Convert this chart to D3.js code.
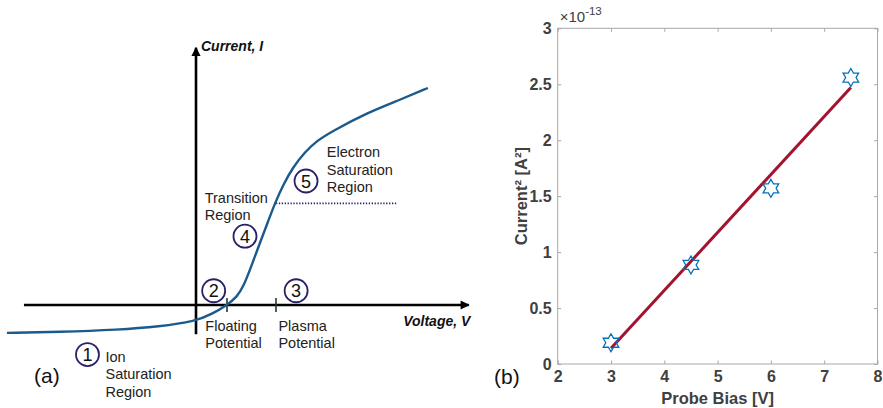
<!DOCTYPE html>
<html>
<head>
<meta charset="utf-8">
<script src="https://cdn.jsdelivr.net/npm/d3@7"></script>
<style>
  body { margin: 0; background: #fff; }
  text { font-family: "Liberation Sans", Arial, sans-serif; }
</style>
</head>
<body>
<script>
  // ---- panel (a): sketch of a Langmuir probe I-V curve (arbitrary units)
  const curveV = [-6.1, -4.4, -2.5, -1.2, 0, 0.52, 1.0, 1.32, 1.52, 1.74, 2.06, 2.32, 2.55, 2.81, 3.13, 3.52, 3.9, 4.42, 5.52, 6.58, 7.48];
  const curveI = [-0.9, -0.87, -0.8, -0.7, -0.52, -0.29, 0, 0.26, 0.58, 1.13, 2.0, 2.68, 3.29, 3.87, 4.45, 4.94, 5.3, 5.62, 6.2, 6.62, 7.0];
  const floatingV = 1.0;
  const plasmaV = 2.58;
  const saturationI = 3.28;
  const saturationEndV = 6.5;
  const regions = [
    { n: 1, v: -3.5, i: -1.6, lines: ['Ion', 'Saturation', 'Region'], tv: -2.92, ti: -1.84 },
    { n: 2, v: 0.57, i: 0.46, lines: ['Floating', 'Potential'], tv: 0.3, ti: -0.84 },
    { n: 3, v: 3.23, i: 0.46, lines: ['Plasma', 'Potential'], tv: 2.66, ti: -0.84 },
    { n: 4, v: 1.58, i: 2.22, lines: ['Transition', 'Region'], tv: 0.28, ti: 3.3 },
    { n: 5, v: 3.55, i: 4.0, lines: ['Electron', 'Saturation', 'Region'], tv: 4.22, ti: 4.77 }
  ];

  // ---- panel (b): measured current squared vs probe bias
  const biasV = [3, 4.5, 6, 7.5];
  const currentSq = [0.19, 0.885, 1.57, 2.56];   // x 1e-13 A^2
  const fitX = [3, 7.5];
  const fitY = [0.14, 2.47];
  const xTicks = [2, 3, 4, 5, 6, 7, 8];
  const yTicks = [0, 0.5, 1, 1.5, 2, 2.5, 3];

  const width = 883, height = 408;
  const svg = d3.select('body').append('svg')
    .attr('width', width).attr('height', height);

  // ================= panel (a)
  const xA = d3.scaleLinear().domain([-6, 9]).range([10, 475]);
  const yA = d3.scaleLinear().domain([-1, 8]).range([336, 57]);
  const ga = svg.append('g');
  const navy = '#2a2066';

  svg.append('defs').append('marker')
    .attr('id', 'arrow').attr('viewBox', '0 0 10 10')
    .attr('refX', 9).attr('refY', 5)
    .attr('markerWidth', 4).attr('markerHeight', 3.5)
    .attr('orient', 'auto')
    .append('path').attr('d', 'M0,0L10,5L0,10z').attr('fill', '#000');

  // axes
  ga.append('line')
    .attr('x1', xA(-5.55)).attr('x2', xA(8.8))
    .attr('y1', yA(0)).attr('y2', yA(0))
    .attr('stroke', '#000').attr('stroke-width', 2.6)
    .attr('marker-end', 'url(#arrow)');
  ga.append('line')
    .attr('x1', xA(0)).attr('x2', xA(0))
    .attr('y1', yA(-0.94)).attr('y2', yA(8.3))
    .attr('stroke', '#000').attr('stroke-width', 2.6)
    .attr('marker-end', 'url(#arrow)');

  ga.append('text')
    .attr('x', xA(0) + 5).attr('y', yA(8.2))
    .attr('font-size', 14).attr('font-weight', 'bold').attr('font-style', 'italic')
    .attr('fill', '#111').text('Current, I');
  ga.append('text')
    .attr('x', xA(8.85)).attr('y', yA(-0.68))
    .attr('text-anchor', 'end')
    .attr('font-size', 14).attr('font-weight', 'bold').attr('font-style', 'italic')
    .attr('fill', '#111').text('Voltage, V');

  // potential ticks
  ga.selectAll('line.pot')
    .data([floatingV, plasmaV])
    .join('line').attr('class', 'pot')
    .attr('x1', d => xA(d)).attr('x2', d => xA(d))
    .attr('y1', yA(0) - 7).attr('y2', yA(0) + 7)
    .attr('stroke', '#1e3d2a').attr('stroke-width', 1.6);

  // saturation dotted line
  ga.append('line')
    .attr('x1', xA(plasmaV)).attr('x2', xA(saturationEndV))
    .attr('y1', yA(saturationI)).attr('y2', yA(saturationI))
    .attr('stroke', navy).attr('stroke-width', 1.8)
    .attr('stroke-dasharray', '1.3,1.6');

  // I-V curve
  const lineA = d3.line()
    .x(d => xA(d[0])).y(d => yA(d[1]))
    .curve(d3.curveBasis);
  ga.append('path')
    .attr('d', lineA(curveV.map((v, i) => [v, curveI[i]])))
    .attr('fill', 'none').attr('stroke', '#1b5a8c').attr('stroke-width', 2.4);

  // numbered circles and labels
  const rg = ga.selectAll('g.region').data(regions).join('g').attr('class', 'region');
  rg.append('circle')
    .attr('cx', d => xA(d.v)).attr('cy', d => yA(d.i)).attr('r', 11.5)
    .attr('fill', 'none').attr('stroke', navy).attr('stroke-width', 1.8);
  rg.append('text')
    .attr('x', d => xA(d.v)).attr('y', d => yA(d.i) + 6.5)
    .attr('text-anchor', 'middle').attr('font-size', 18).attr('fill', '#111')
    .text(d => d.n);
  rg.append('text')
    .attr('font-size', 14.5).attr('fill', '#222')
    .selectAll('tspan').data(d => d.lines.map((t, k) => ({ t, k, d })))
    .join('tspan')
    .attr('x', o => xA(o.d.tv))
    .attr('y', o => yA(o.d.ti) + o.k * 17.4)
    .text(o => o.t);

  ga.append('text')
    .attr('x', 34).attr('y', 383)
    .attr('font-size', 21).attr('fill', '#111').text('(a)');

  // ================= panel (b)
  const x = d3.scaleLinear().domain([2, 8]).range([557.7, 877.5]);
  const y = d3.scaleLinear().domain([0, 3]).range([364, 28.3]);
  const gb = svg.append('g');
  const axisGray = '#a8a8a8';
  const labelGray = '#404040';

  gb.append('rect')
    .attr('x', x(2)).attr('y', y(3))
    .attr('width', x(8) - x(2)).attr('height', y(0) - y(3))
    .attr('fill', 'none').attr('stroke', axisGray).attr('stroke-width', 1);

  const xAxis = gb.append('g').attr('transform', `translate(0,${y(0)})`)
    .call(d3.axisBottom(x).tickValues(xTicks).tickSize(-3.5).tickPadding(7).tickFormat(d3.format('d')));
  const xAxisTop = gb.append('g').attr('transform', `translate(0,${y(3)})`)
    .call(d3.axisTop(x).tickValues(xTicks).tickSize(-3.5).tickFormat(''));
  const yAxis = gb.append('g').attr('transform', `translate(${x(2)},0)`)
    .call(d3.axisLeft(y).tickValues(yTicks).tickSize(-3.5).tickPadding(6).tickFormat(d => d));
  const yAxisRight = gb.append('g').attr('transform', `translate(${x(8)},0)`)
    .call(d3.axisRight(y).tickValues(yTicks).tickSize(-3.5).tickFormat(''));

  [xAxis, xAxisTop, yAxis, yAxisRight].forEach(a => {
    a.select('.domain').remove();
    a.selectAll('line').attr('stroke', axisGray);
    a.selectAll('text')
      .attr('font-family', '"Liberation Sans", Arial, sans-serif')
      .attr('font-size', 16).attr('font-weight', 'bold').attr('fill', labelGray);
  });

  // exponent
  const ex = gb.append('text')
    .attr('x', x(2) + 2).attr('y', 22)
    .attr('font-size', 15).attr('fill', labelGray);
  ex.append('tspan').text('\u00d710');
  ex.append('tspan').attr('dy', -7).attr('font-size', 11.5).text('-13');

  // fit line
  gb.append('line')
    .attr('x1', x(fitX[0])).attr('y1', y(fitY[0]))
    .attr('x2', x(fitX[1])).attr('y2', y(fitY[1]))
    .attr('stroke', '#a2142f').attr('stroke-width', 3);

  // hexagram markers
  const hexagram = {
    draw(context, size) {
      const R = Math.sqrt(size);
      const r = R / Math.sqrt(3);
      for (let k = 0; k < 12; k++) {
        const a = -Math.PI / 2 + k * Math.PI / 6;
        const rad = k % 2 === 0 ? R : r;
        const px = rad * Math.cos(a), py = rad * Math.sin(a);
        if (k === 0) context.moveTo(px, py); else context.lineTo(px, py);
      }
      context.closePath();
    }
  };
  gb.selectAll('path.star')
    .data(biasV.map((v, i) => [v, currentSq[i]]))
    .join('path').attr('class', 'star')
    .attr('transform', d => `translate(${x(d[0])},${y(d[1])})`)
    .attr('d', d3.symbol().type(hexagram).size(81))
    .attr('fill', 'none').attr('stroke', '#0072bd').attr('stroke-width', 1.3);

  // axis labels
  gb.append('text')
    .attr('x', (x(2) + x(8)) / 2).attr('y', 404)
    .attr('text-anchor', 'middle')
    .attr('font-size', 16.5).attr('font-weight', 'bold').attr('fill', labelGray)
    .text('Probe Bias [V]');
  gb.append('text')
    .attr('transform', `translate(527,${(y(0) + y(3)) / 2}) rotate(-90)`)
    .attr('text-anchor', 'middle')
    .attr('font-size', 16.5).attr('font-weight', 'bold').attr('fill', labelGray)
    .text('Current\u00b2 [A\u00b2]');

  gb.append('text')
    .attr('x', 494).attr('y', 384)
    .attr('font-size', 21).attr('fill', '#111').text('(b)');
</script>
</body>
</html>
